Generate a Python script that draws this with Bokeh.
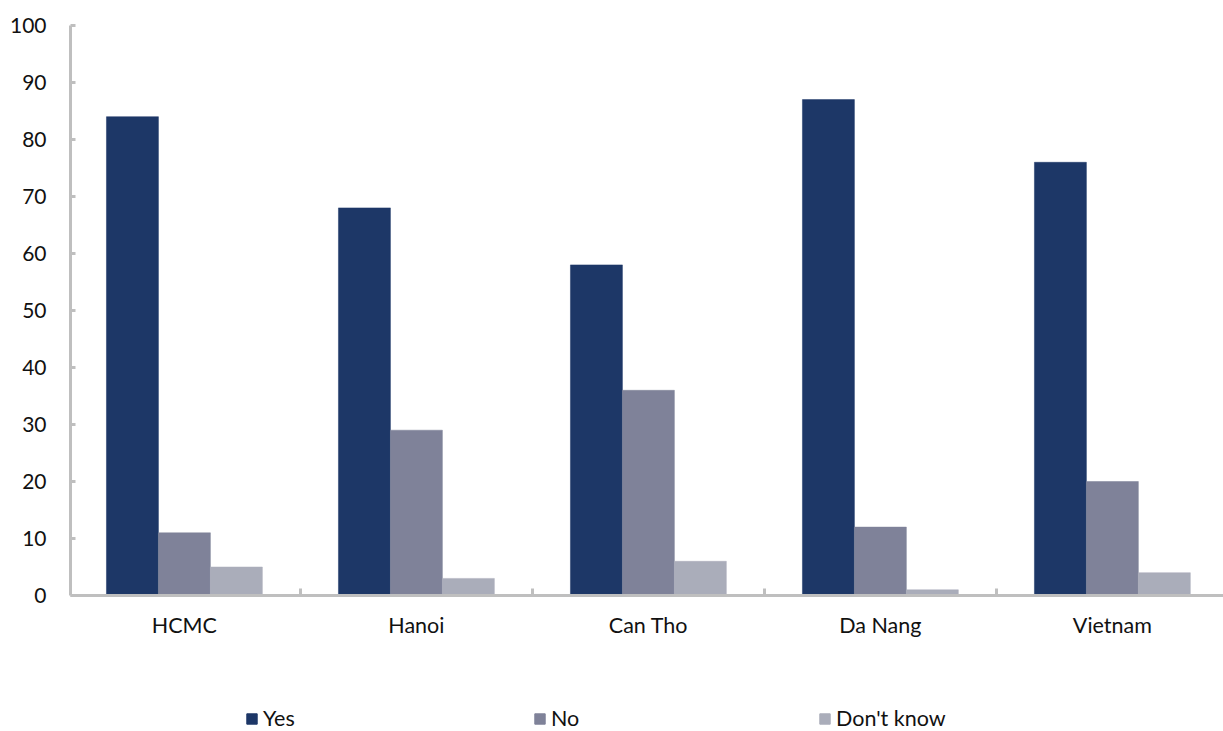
from bokeh.plotting import figure
from bokeh.layouts import column
from bokeh.models import ColumnDataSource, FixedTicker, Legend, LegendItem, Range1d
from bokeh.embed import file_html
from bokeh.resources import INLINE

# Survey answers by city (percent)
cities = ["HCMC", "Hanoi", "Can Tho", "Da Nang", "Vietnam"]
yes = [84, 68, 58, 87, 76]
no = [11, 29, 36, 12, 20]
dont_know = [5, 3, 6, 1, 4]
y_ticks = [0, 10, 20, 30, 40, 50, 60, 70, 80, 90, 100]

series_names = ["Yes", "No", "Don't know"]
series_values = [yes, no, dont_know]
series_colors = ["#1d3767", "#7f8299", "#aaadba"]

FONT = "Lato"
AXIS_GRAY = "#bfbfbf"
TEXT = "#111111"
bar_w = 0.224
x_idx = list(range(len(cities)))

p = figure(
    width=1223, height=656,
    output_backend="svg", toolbar_location=None,
    x_range=Range1d(-0.491, 4.479), y_range=Range1d(0, 100),
    min_border_left=70, min_border_right=0, min_border_top=25, min_border_bottom=61,
)
p.outline_line_color = None
p.grid.visible = False

for i, (vals, color) in enumerate(zip(series_values, series_colors)):
    offset = (i - 1) * bar_w
    src = ColumnDataSource(dict(x=[v + offset for v in x_idx], top=vals))
    p.vbar(x="x", top="top", bottom=0, width=bar_w, source=src,
           fill_color=color, line_color=color, line_width=0.5)

# x axis: labels at category centres, separator ticks between categories
xa = p.xaxis[0]
xa.ticker = FixedTicker(ticks=x_idx, minor_ticks=[0.5, 1.5, 2.5, 3.5])
xa.major_label_overrides = {i: c for i, c in enumerate(cities)}
xa.major_tick_in = 0
xa.major_tick_out = 0
xa.minor_tick_in = 7
xa.minor_tick_out = 0
xa.minor_tick_line_color = AXIS_GRAY
xa.minor_tick_line_width = 3
xa.axis_line_color = AXIS_GRAY
xa.axis_line_width = 3
xa.major_label_text_font = FONT
xa.major_label_text_font_size = "21.5px"
xa.major_label_text_color = TEXT
xa.major_label_standoff = 16

ya = p.yaxis[0]
ya.ticker = FixedTicker(ticks=y_ticks)
ya.minor_tick_line_color = None
ya.major_tick_in = 5
ya.major_tick_out = 0
ya.major_tick_line_color = AXIS_GRAY
ya.major_tick_line_width = 3
ya.axis_line_color = AXIS_GRAY
ya.axis_line_width = 3
ya.major_label_text_font = FONT
ya.major_label_text_font_size = "21px"
ya.major_label_text_color = TEXT
ya.major_label_standoff = 24

# legend strip under the chart (its frame lines up with the chart frame)
leg = figure(
    width=1223, height=75,
    output_backend="svg", toolbar_location=None,
    x_range=Range1d(0, 1), y_range=Range1d(0, 1),
    min_border=0, x_axis_location=None, y_axis_location=None,
)
leg.outline_line_color = None
leg.grid.visible = False

legend_x = [175, 463, 748]
for name, color, lx in zip(series_names, series_colors, legend_x):
    # swatch proxy kept outside the visible range; only its legend entry shows
    proxy = ColumnDataSource(dict(x=[-5], y=[-5]))
    r = leg.rect(x="x", y="y", width=0.1, height=0.1, source=proxy,
                 fill_color=color, line_color=color)
    lg = Legend(items=[LegendItem(label=name, renderers=[r])],
                location=(lx, 0), orientation="horizontal",
                glyph_width=13, glyph_height=13, label_standoff=5,
                label_height=13,
                padding=0, margin=0, border_line_color=None,
                background_fill_alpha=0,
                label_text_font=FONT, label_text_font_size="21.5px",
                label_text_color=TEXT)
    leg.add_layout(lg, "center")

open("out.html", "w").write(file_html(column(p, leg, spacing=0), INLINE))
